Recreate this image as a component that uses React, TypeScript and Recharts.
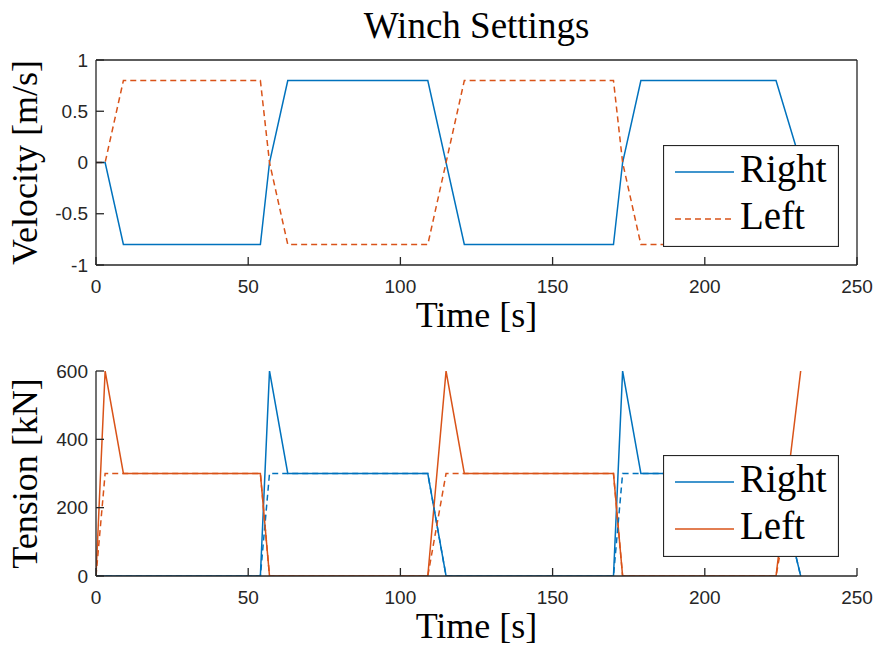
import { LineChart, Line, XAxis, YAxis, Legend, Label } from "recharts";

const timeTicks = [0, 50, 100, 150, 200, 250];
const velocityTicks = [-1, -0.5, 0, 0.5, 1];
const tensionTicks = [0, 200, 400, 600];

// winch velocity [m/s]
const rightVelTime = [0, 3, 9, 54, 57, 63, 109, 121, 170, 173, 179, 223.4, 231.5];
const rightVel = [0, 0, -0.8, -0.8, 0, 0.8, 0.8, -0.8, -0.8, 0, 0.8, 0.8, 0];
const leftVelTime = [0, 3, 9, 54, 57, 63, 109, 121, 170, 173, 179, 223.4, 231.5];
const leftVel = [0, 0, 0.8, 0.8, 0, -0.8, -0.8, 0.8, 0.8, 0, -0.8, -0.8, 0];

// winch tension [kN]
const rightTenTime = [0, 54, 57, 63, 109, 115, 170, 173, 179, 223.4, 231.5];
const rightTen = [0, 0, 600, 300, 300, 0, 0, 600, 300, 300, 0];
const leftTenTime = [0, 3, 9, 54, 57, 109, 115, 121, 170, 173, 223.4, 231.5];
const leftTen = [0, 600, 300, 300, 0, 0, 600, 300, 300, 0, 0, 600];

// dashed tension references
const rightRefTime = [0, 54, 57, 109, 115, 170, 173, 223.4, 231.5];
const rightRef = [0, 0, 300, 300, 0, 0, 300, 300, 0];
const leftRefTime = [0, 3, 54, 57, 109, 115, 170, 173, 223.4, 229.4, 231.5];
const leftRef = [0, 300, 300, 0, 0, 300, 300, 0, 0, 300, 300];

const zip = (t: number[], v: number[]) => t.map((x, i) => ({ t: x, v: v[i] }));

const BLUE = "#0072BD";
const ORANGE = "#D95319";
const AXIS = "#262626";
const SERIF = '"Liberation Serif", "Times New Roman", serif';
const SANS = '"Liberation Sans", Arial, sans-serif';

const tickStyle = { fontFamily: SANS, fontSize: 19, fill: AXIS };
const axisLineStyle = { stroke: AXIS, strokeWidth: 1.3 };

const xTitle = (props: any) => {
    const { viewBox } = props;
    return (
        <text x={viewBox.x + viewBox.width / 2} y={viewBox.y + 62} textAnchor="middle"
            fontFamily={SERIF} fontSize={36} fill="#000">
            Time [s]
        </text>
    );
};

const yTitle = (text: string) => (props: any) => {
    const { viewBox } = props;
    const cx = 37;
    const cy = viewBox.y + viewBox.height / 2;
    return (
        <text x={cx} y={cy} textAnchor="middle" transform={`rotate(-90, ${cx}, ${cy})`}
            fontFamily={SERIF} fontSize={36} fill="#000">
            {text}
        </text>
    );
};

const mainTitle = () => (
    <text x={476.5} y={38} textAnchor="middle" fontFamily={SERIF} fontSize={37} fill="#000">
        Winch Settings
    </text>
);

function LegendBox({ leftDashed }: { leftDashed: boolean }) {
    return (
        <svg width={176} height={102} style={{ display: "block" }}>
            <rect x={0.5} y={0.5} width={175} height={101} fill="#fff" stroke={AXIS} strokeWidth={1.2} />
            <line x1={12} x2={71} y1={27} y2={27} stroke={BLUE} strokeWidth={1.5} />
            <text x={77} y={37} fontFamily={SERIF} fontSize={39} fill="#000">Right</text>
            <line x1={12} x2={71} y1={74} y2={74} stroke={ORANGE} strokeWidth={1.5}
                strokeDasharray={leftDashed ? "6 4" : undefined} />
            <text x={77} y={84} fontFamily={SERIF} fontSize={39} fill="#000">Left</text>
        </svg>
    );
}

export default function App() {
    return (
        <div style={{ position: "absolute", left: 0, top: 0, width: 877, height: 646, background: "#fff" }}>
            <div style={{ position: "absolute", left: 0, top: 0 }}>
                <LineChart width={877} height={340} margin={{ top: 59, right: 19, bottom: 0, left: 0 }}>
                    <XAxis xAxisId="bottom" dataKey="t" type="number" domain={[0, 250]} ticks={timeTicks}
                        interval={0} height={75} stroke={AXIS} axisLine={axisLineStyle} tickLine={axisLineStyle}
                        tickSize={-8} tickMargin={23} tick={tickStyle} allowDataOverflow>
                        <Label content={xTitle} />
                    </XAxis>
                    <XAxis xAxisId="top" orientation="top" dataKey="t" type="number" domain={[0, 250]}
                        ticks={timeTicks} interval={0} height={1} stroke={AXIS} axisLine={axisLineStyle}
                        tickLine={axisLineStyle} tickSize={-8} tick={false} allowDataOverflow />
                    <YAxis yAxisId="left" type="number" domain={[-1, 1]} ticks={velocityTicks} interval={0}
                        width={96} stroke={AXIS} axisLine={axisLineStyle} tickLine={axisLineStyle}
                        tickSize={-8} tickMargin={16} tick={tickStyle} allowDataOverflow>
                        <Label content={yTitle("Velocity [m/s]")} />
                        <Label content={mainTitle} />
                    </YAxis>
                    <YAxis yAxisId="right" orientation="right" type="number" domain={[-1, 1]} ticks={velocityTicks}
                        interval={0} width={1} stroke={AXIS} axisLine={axisLineStyle} tickLine={axisLineStyle}
                        tickSize={-8} tick={false} allowDataOverflow />
                    <Line xAxisId="bottom" yAxisId="left" data={zip(rightVelTime, rightVel)} dataKey="v" name="Right"
                        type="linear" stroke={BLUE} strokeWidth={1.5} dot={false} activeDot={false}
                        isAnimationActive={false} />
                    <Line xAxisId="top" yAxisId="right" data={zip(leftVelTime, leftVel)} dataKey="v" name="Left"
                        type="linear" stroke={ORANGE} strokeWidth={1.5} strokeDasharray="6 4" dot={false}
                        activeDot={false} isAnimationActive={false} />
                    <Legend layout="vertical" align="center" verticalAlign="middle"
                        wrapperStyle={{ left: 663, top: 145, width: 176, height: 102 }}
                        content={() => <LegendBox leftDashed />} />
                </LineChart>
            </div>
            <div style={{ position: "absolute", left: 0, top: 340 }}>
                <LineChart width={877} height={306} margin={{ top: 31, right: 20, bottom: 0, left: 0 }}>
                    <XAxis dataKey="t" type="number" domain={[0, 250]} ticks={timeTicks} interval={0}
                        height={70} stroke={AXIS} axisLine={axisLineStyle} tickLine={axisLineStyle}
                        tickSize={-8} tickMargin={23} tick={tickStyle} allowDataOverflow>
                        <Label content={xTitle} />
                    </XAxis>
                    <YAxis type="number" domain={[0, 600]} ticks={tensionTicks} interval={0} width={96}
                        stroke={AXIS} axisLine={axisLineStyle} tickLine={axisLineStyle}
                        tickSize={-8} tickMargin={16} tick={tickStyle} allowDataOverflow>
                        <Label content={yTitle("Tension [kN]")} />
                    </YAxis>
                    <Line data={zip(rightTenTime, rightTen)} dataKey="v" name="Right" type="linear" stroke={BLUE}
                        strokeWidth={1.5} dot={false} activeDot={false} isAnimationActive={false} />
                    <Line data={zip(leftTenTime, leftTen)} dataKey="v" name="Left" type="linear" stroke={ORANGE}
                        strokeWidth={1.5} dot={false} activeDot={false} isAnimationActive={false} />
                    <Line data={zip(rightRefTime, rightRef)} dataKey="v" name="Right ref" legendType="none"
                        type="linear" stroke={BLUE} strokeWidth={1.5} strokeDasharray="6 4" dot={false}
                        activeDot={false} isAnimationActive={false} />
                    <Line data={zip(leftRefTime, leftRef)} dataKey="v" name="Left ref" legendType="none"
                        type="linear" stroke={ORANGE} strokeWidth={1.5} strokeDasharray="6 4" dot={false}
                        activeDot={false} isAnimationActive={false} />
                    <Legend layout="vertical" align="center" verticalAlign="middle"
                        wrapperStyle={{ left: 663, top: 115, width: 176, height: 102 }}
                        content={() => <LegendBox leftDashed={false} />} />
                </LineChart>
            </div>
        </div>
    );
}
